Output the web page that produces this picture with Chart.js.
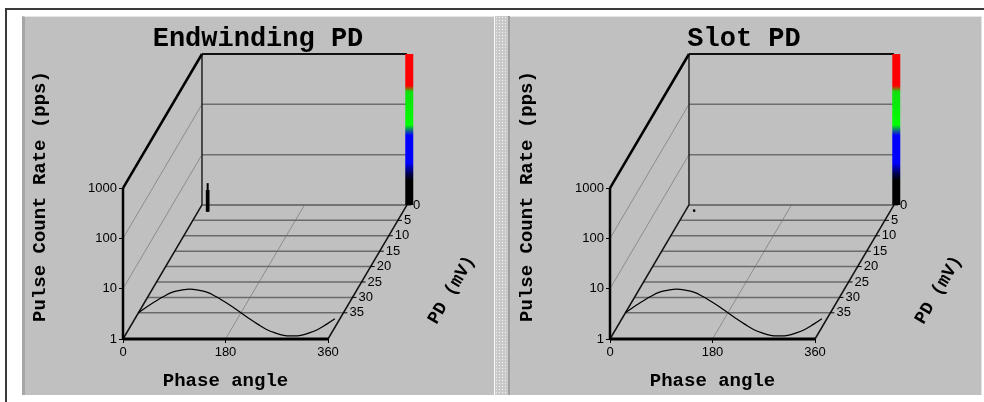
<!DOCTYPE html>
<html>
<head>
<meta charset="utf-8">
<script src="https://cdn.jsdelivr.net/npm/chart.js@4.4.1/dist/chart.umd.min.js"></script>
<style>
html, body { margin: 0; padding: 0; background: #fff; }
body { width: 984px; height: 402px; position: relative; overflow: hidden; }
.frame { position: absolute; left: 5px; top: 8px; right: 0; bottom: 0; border-left: 2px solid #3a3a3a; border-top: 2px solid #3a3a3a; }
.panel { position: absolute; top: 16px; height: 378px; background: #c0c0c0; border-top: 1px solid #e6e6e6; }
#leftPanel { left: 22px; width: 469px; border-left: 3px solid #a6a6a6; }
#rightPanel { left: 510px; width: 471px; border-right: 1px solid #e2e2e2; }
.sep { position: absolute; left: 494px; top: 16px; width: 13px; height: 379px; border-left: 1px solid #fafafa; border-right: 2px solid #9e9e9e;
  background-color: #c9c9c9; background-image: radial-gradient(#f2f2f2 0.8px, transparent 1px); background-size: 3px 3px; }
.panel canvas { position: absolute; top: 0; }
.title { position: absolute; top: 9px; transform: translateX(-50%); white-space: nowrap;
  font: bold 27px/27px 'Liberation Mono', 'Courier New', monospace; color: #000; }
</style>
</head>
<body>
<div class="frame"></div>
<div class="panel" id="leftPanel">
  <canvas id="endwindingChart" width="472" height="378" style="left:-3px"></canvas>
  <div class="title" style="left:233px">Endwinding PD</div>
</div>
<div class="sep"></div>
<div class="panel" id="rightPanel">
  <canvas id="slotChart" width="472" height="378" style="left:-1px"></canvas>
  <div class="title" style="left:234px">Slot PD</div>
</div>
<script>
const phaseTicks = [0, 180, 360];
const rateTicks = [1, 10, 100, 1000];
const pdTicks = [0, 5, 10, 15, 20, 25, 30, 35];
const PD_MAX = 43.5;
const RATE_TOP = 1000;

// phase reference wave, drawn on the PD = 35 plane (decades above the floor)
const REF_PD = 35;
const refPhase = [0, 15, 30, 45, 60, 75, 90, 105, 120, 135, 150, 165, 180, 195, 210, 225, 240, 255, 270, 285, 300, 315, 330, 345, 360];
const refLevel = [0, 0.12, 0.23, 0.33, 0.41, 0.45, 0.47, 0.45, 0.41, 0.33, 0.23, 0.12, 0, -0.12, -0.23, -0.33, -0.40, -0.45, -0.46, -0.45, -0.40, -0.33, -0.23, -0.12, 0];

const endwindingPhase = [15.5, 17, 18.5];
const endwindingPd = [2.2, 2.2, 2.2];
const endwindingRate = [2.7, 3.7, 2.7];

const slotPhase = [15];
const slotPd = [1.85];
const slotRate = [1];

// oblique projection of the PD (depth) axis
const DEPTH_X = 138.7;   // in phase units
const DEPTH_Y = 2.664;   // in decades
const COLORBAR_PHASE = 364;
const MONO = "'Liberation Mono', 'Courier New', monospace";

Chart.defaults.font.family = "'Liberation Sans', Arial, sans-serif";
Chart.defaults.color = '#000';

function projX(phase, pd) { return phase + DEPTH_X * (1 - pd / PD_MAX); }
function projY(rate, pd) { return rate * Math.pow(10, DEPTH_Y * (1 - pd / PD_MAX)); }
function pt(phase, pd, rate) { return { x: projX(phase, pd), y: projY(rate, pd) }; }

function line(points, color, width, extra) {
    return Object.assign({
        data: points, showLine: true, borderColor: color, borderWidth: width,
        pointRadius: 0, clip: false, tension: 0
    }, extra || {});
}

function frameDatasets() {
    const sets = [];
    const add = (a, b, color, width) => sets.push(line([a, b], color, width));
    // front edges
    add(pt(0, PD_MAX, 1), pt(360, PD_MAX, 1), '#000', 3);
    add(pt(0, PD_MAX, 1), pt(0, PD_MAX, RATE_TOP), '#000', 2.5);
    add(pt(0, PD_MAX, RATE_TOP), pt(0, 0, RATE_TOP), '#000', 2.5);
    // floor sides
    add(pt(0, PD_MAX, 1), pt(0, 0, 1), '#111', 1.5);
    add(pt(360, PD_MAX, 1), pt(360, 0, 1), '#111', 1.5);
    // back wall
    add(pt(0, 0, RATE_TOP), pt(360, 0, RATE_TOP), '#111', 2);
    add(pt(0, 0, 1), pt(0, 0, RATE_TOP), '#222', 1.5);
    add(pt(0, 0, 1), pt(360, 0, 1), '#5a5a5a', 1.5);
    rateTicks.slice(1, -1).forEach(r => {
        add(pt(0, 0, r), pt(360, 0, r), '#6e6e6e', 1.5);
        add(pt(0, PD_MAX, r), pt(0, 0, r), '#8c8c8c', 1);
    });
    pdTicks.slice(1).forEach(d => add(pt(0, d, 1), pt(360, d, 1), '#6a6a6a', 1.5));
    phaseTicks.slice(1, -1).forEach(p => add(pt(p, PD_MAX, 1), pt(p, 0, 1), '#8c8c8c', 1));
    return sets;
}

const colorStops = [[0, '#ff0000'], [0.21, '#ff0000'], [0.25, '#10e010'], [0.47, '#00ff00'], [0.51, '#106090'],
    [0.54, '#0000ff'], [0.72, '#0000ff'], [0.8, '#000040'], [0.84, '#000000'], [1, '#000000']];

function colorbarDataset() {
    return line([pt(COLORBAR_PHASE, 0, 1), pt(COLORBAR_PHASE, 0, RATE_TOP)], c => {
        const ch = c.chart;
        if (!ch.chartArea) return '#000';
        const top = ch.scales.y.getPixelForValue(projY(RATE_TOP, 0));
        const bot = ch.scales.y.getPixelForValue(projY(1, 0));
        const g = ch.ctx.createLinearGradient(0, top, 0, bot);
        colorStops.forEach(([f, col]) => g.addColorStop(f, col));
        return g;
    }, 8);
}

const depthAxisPlugin = {
    id: 'depthAxis',
    afterDatasetsDraw(chart) {
        const { ctx, scales: { x, y } } = chart;
        const toPx = (phase, pd, rate) => ({ x: x.getPixelForValue(projX(phase, pd)), y: y.getPixelForValue(projY(rate, pd)) });
        ctx.save();
        ctx.strokeStyle = '#000';
        ctx.fillStyle = '#000';
        ctx.lineWidth = 1;
        ctx.font = "13px 'Liberation Sans', Arial, sans-serif";
        ctx.textAlign = 'left';
        ctx.textBaseline = 'middle';
        pdTicks.forEach(v => {
            const p = toPx(360, v, 1);
            ctx.beginPath();
            ctx.moveTo(p.x, p.y);
            ctx.lineTo(p.x + 4, p.y);
            ctx.stroke();
            ctx.fillText(String(v), p.x + 6, p.y);
        });
        const a = toPx(360, PD_MAX, 1), b = toPx(360, 0, 1);
        const m = toPx(360, 27.6, 1);
        ctx.translate(m.x + 95, m.y);
        ctx.rotate(Math.atan2(b.y - a.y, b.x - a.x));
        ctx.font = 'bold 18px ' + MONO;
        ctx.textAlign = 'center';
        ctx.fillText('PD (mV)', 0, 0);
        ctx.restore();
    }
};

function buildChart(canvasId, phases, pds, rates, asDots) {
    const pulseSets = [];
    if (asDots) {
        pulseSets.push({
            data: phases.map((p, i) => pt(p, pds[i], rates[i])), showLine: false,
            pointRadius: 1.3, pointBackgroundColor: '#000', pointBorderWidth: 0, clip: false
        });
    } else {
        phases.forEach((p, i) => pulseSets.push(line([pt(p, pds[i], 1), pt(p, pds[i], rates[i])], '#000', 2)));
    }
    const refWave = line(refPhase.map((p, i) => pt(p, REF_PD, Math.pow(10, refLevel[i]))), '#000', 1.2, { tension: 0.4 });

    return new Chart(document.getElementById(canvasId), {
        type: 'scatter',
        data: { datasets: [...pulseSets, colorbarDataset(), refWave, ...frameDatasets()] },
        plugins: [depthAxisPlugin],
        options: {
            responsive: false,
            devicePixelRatio: 1,
            animation: false,
            layout: { padding: { left: 0, right: 166, top: 37, bottom: 0 } },
            plugins: { legend: { display: false }, tooltip: { enabled: false } },
            scales: {
                x: {
                    type: 'linear', min: 0, max: 360,
                    afterBuildTicks: s => { s.ticks = phaseTicks.map(v => ({ value: v })); },
                    afterFit: s => { s.height = 56; },
                    border: { display: false },
                    grid: { drawOnChartArea: false, drawTicks: true, tickLength: 4, color: '#000' },
                    ticks: { maxRotation: 0, autoSkip: false, padding: 2, font: { size: 13 }, color: '#000' },
                    title: { display: true, text: 'Phase angle', color: '#000', font: { family: MONO, weight: 'bold', size: 19 }, padding: { top: 0, bottom: 2 } }
                },
                y: {
                    type: 'logarithmic', min: 1, max: Math.pow(10, 3 + DEPTH_Y),
                    afterBuildTicks: s => { s.ticks = rateTicks.map(v => ({ value: v })); },
                    afterFit: s => { s.width = 101; },
                    border: { display: false },
                    grid: { drawOnChartArea: false, drawTicks: true, tickLength: 4, color: '#000' },
                    ticks: { autoSkip: false, padding: 2, font: { size: 13 }, color: '#000', callback: v => String(v) },
                    title: { display: true, text: 'Pulse Count Rate (pps)', color: '#000', font: { family: MONO, weight: 'bold', size: 19 }, padding: { top: 7, bottom: 0 } }
                }
            }
        }
    });
}

buildChart('endwindingChart', endwindingPhase, endwindingPd, endwindingRate, false);
buildChart('slotChart', slotPhase, slotPd, slotRate, true);
</script>
</body>
</html>
